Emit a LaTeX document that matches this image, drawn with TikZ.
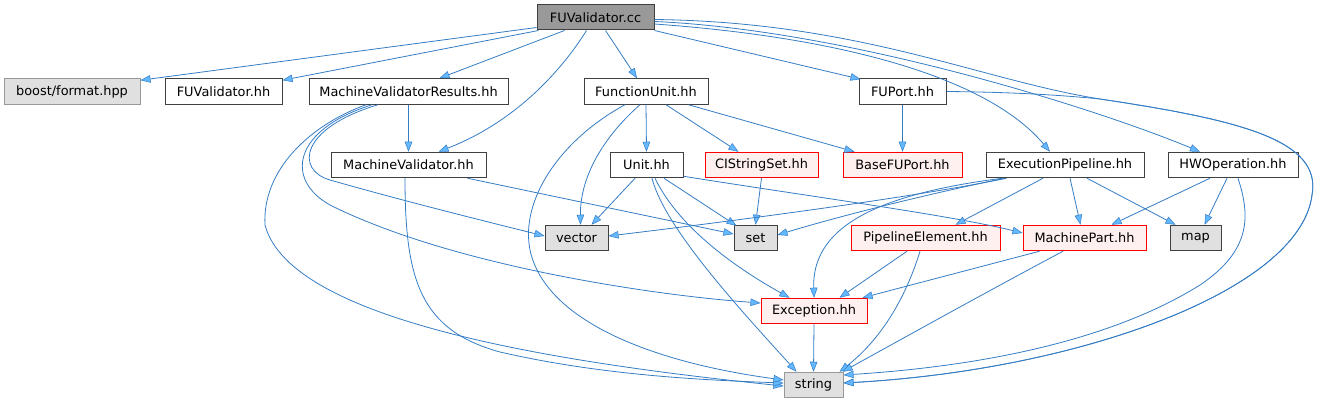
\documentclass[tikz,border=0pt]{standalone}
\usepackage{fontspec}
\setmainfont{DejaVu Sans}
\usetikzlibrary{arrows.meta,calc}
\definecolor{edgeline}{RGB}{52,124,196}
\definecolor{arrowfill}{RGB}{99,184,255}
\definecolor{bordergray}{HTML}{404040}
\definecolor{lightborder}{HTML}{999999}
\definecolor{sysfill}{HTML}{E0E0E0}
\definecolor{mainfill}{HTML}{999999}
\definecolor{redfill}{HTML}{FFF0F0}
\tikzset{
  box/.style={draw=bordergray, fill=white, line width=1pt, rectangle, inner sep=0pt,
    minimum height=25.5pt, font=\fontsize{12.9}{14}\selectfont, text=black},
  mainbox/.style={box, fill=mainfill},
  sysbox/.style={box, fill=sysfill},
  lightsys/.style={box, fill=sysfill, draw=lightborder},
  redbox/.style={box, fill=redfill, draw=red},
  edge/.style={draw=edgeline, line width=0.8pt,
    -{Triangle[length=10pt,width=7.5pt,fill=arrowfill,line width=0.5pt]}},
}
\begin{document}
\begin{tikzpicture}[x=1pt,y=-1pt]
\useasboundingbox (0,0) rectangle (1321,403);
% nodes
\node[mainbox, minimum width=117pt, minimum height=25pt] (A) at (595.5,17.5) {FUValidator.cc};
\node[lightsys, minimum width=136pt] (boost) at (72,91.5) {boost/format.hpp};
\node[box, minimum width=117pt] (Chh) at (223.5,91.5) {FUValidator.hh};
\node[box, minimum width=199pt] (MVR) at (408.5,91.5) {MachineValidatorResults.hh};
\node[box, minimum width=124pt] (FU) at (646,91.5) {FunctionUnit.hh};
\node[box, minimum width=87pt] (FP) at (902.5,91.5) {FUPort.hh};
\node[box, minimum width=155pt] (MV) at (408.5,165) {MachineValidator.hh};
\node[box, minimum width=73pt] (Unit) at (646.5,165) {Unit.hh};
\node[redbox, minimum width=113pt] (CIS) at (761.5,165) {CIStringSet.hh};
\node[redbox, minimum width=119pt] (BFP) at (902.5,165) {BaseFUPort.hh};
\node[box, minimum width=158pt] (EP) at (1065,165) {ExecutionPipeline.hh};
\node[box, minimum width=130pt] (HW) at (1233,165) {HWOperation.hh};
\node[sysbox, minimum width=63pt] (vector) at (576.5,238) {vector};
\node[sysbox, minimum width=43pt] (set) at (755.5,238) {set};
\node[redbox, minimum width=149pt] (PE) at (925.5,238) {PipelineElement.hh};
\node[redbox, minimum width=123pt] (MP) at (1084.5,238) {MachinePart.hh};
\node[sysbox, minimum width=51pt] (map) at (1195.5,238) {map};
\node[redbox, minimum width=106pt] (Exc) at (814,311) {Exception.hh};
\node[lightsys, minimum width=59pt] (string) at (813.5,385) {string};
% edges from FUValidator.cc
\path[edge] ($(A.south west)+(0,-3)$) -- ($(boost.north east)+(0,2)$);
\path[edge] ($(A.south west)+(2,0)$) -- ($(Chh.north east)+(0,2)$);
\path[edge] ($(A.south west)+(28,0)$) -- ($(MVR.north)+(31,0)$);
\path[edge] ($(A.south)+(-9,0)$) .. controls (565,65) and (520,120) .. ($(MV.north)+(30,0)$);
\path[edge] ($(A.south)+(10,0)$) -- ($(FU.north)+(-9,0)$);
\path[edge] (A.south east) -- ($(FP.north west)+(2,1)$);
\path[edge] ($(A.east)+(0,6.5)$) .. controls (850,38) and (990,80) .. ($(EP.north)+(-15,0)$);
\path[edge] ($(A.east)+(0,4)$) .. controls (850,30) and (1100,110) .. ($(HW.north)+(-33,0)$);
\path[edge] ($(A.east)+(0,2)$) .. controls (860,22) and (980,80) .. (1100,99)
   .. controls (1240,120) and (1322,140) .. (1312,195)
   .. controls (1300,290) and (1080,370) .. ($(string.east)+(0,-2)$);
% MachineValidatorResults
\path[edge] (MVR.south) -- (MV.north);
\path[edge] ($(MVR.south)+(-30.5,0)$) .. controls (300,128) and (295,170) .. (330,180)
   .. controls (400,200) and (480,220) .. ($(vector.west)+(0,-2)$);
\path[edge] ($(MVR.south)+(-36.5,0)$) .. controls (292,130) and (285,180) .. (330,205)
   .. controls (450,265) and (650,295) .. ($(Exc.west)+(0,-8)$);
\path[edge] ($(MVR.south)+(-42.5,0)$) .. controls (310,125) and (262,170) .. (265,225)
   .. controls (290,320) and (550,362) .. ($(string.west)+(0,1)$);
% MachineValidator
\path[edge] ($(MV.south east)+(-19,0)$) -- ($(set.west)+(0,-4)$);
\path[edge] ($(MV.south)+(-3.5,0)$) .. controls (405,280) and (420,330) .. (500,352)
   .. controls (600,375) and (700,380) .. ($(string.west)+(0,-2)$);
% FunctionUnit
\path[edge] (FU.south) -- (Unit.north);
\path[edge] ($(FU.south)+(20,0)$) -- ($(CIS.north)+(-23,0)$);
\path[edge] ($(FU.south east)+(-20,0)$) -- ($(BFP.north west)+(12,0)$);
\path[edge] ($(FU.south)+(-6,0)$) .. controls (600,140) and (580,180) .. ($(vector.north)+(4,0)$);
\path[edge] ($(FU.south)+(-21,0)$) .. controls (560,140) and (520,200) .. (530,250)
   .. controls (545,320) and (650,362) .. ($(string.west)+(0,-5)$);
% FUPort
\path[edge] (FP.south) -- (BFP.north);
\path[edge] (FP.east) .. controls (1000,92) and (1050,94) .. (1100,99)
   .. controls (1240,120) and (1322,140) .. (1312,195)
   .. controls (1300,290) and (1080,370) .. ($(string.east)+(0,-2)$);
% Unit
\path[edge] ($(Unit.south)+(-11.5,0)$) -- ($(vector.north)+(15,0)$);
\path[edge] ($(Unit.south)+(17.5,0)$) -- ($(set.north west)+(3,1)$);
\path[edge] ($(Unit.south east)+(0,-2)$) .. controls (800,195) and (950,215) .. ($(MP.west)+(0,-5)$);
\path[edge] ($(Unit.south)+(8.5,0)$) .. controls (680,230) and (740,270) .. ($(Exc.north west)+(29,0)$);
\path[edge] ($(Unit.south)+(5.5,0)$) .. controls (665,230) and (750,320) .. ($(string.north west)+(13,0)$);
% CIStringSet
\path[edge] (CIS.south) -- (set.north);
% ExecutionPipeline
\path[edge] ($(EP.south west)+(21,0)$) .. controls (900,200) and (700,225) .. ($(vector.east)+(0,-2)$);
\path[edge] ($(EP.south west)+(19,0)$) .. controls (900,200) and (820,222) .. ($(set.east)+(0,-3)$);
\path[edge] ($(EP.south west)+(17,0)$) .. controls (870,195) and (812,230) .. (Exc.north);
\path[edge] ($(EP.south)+(-22,0)$) -- ($(PE.north)+(30,0)$);
\path[edge] ($(EP.south)+(5,0)$) -- ($(MP.north)+(-4,0)$);
\path[edge] ($(EP.south)+(22,0)$) -- ($(map.north west)+(6,0)$);
% HWOperation
\path[edge] ($(HW.south)+(-23,0)$) -- ($(MP.north)+(27,0)$);
\path[edge] ($(HW.south)+(-6,0)$) -- ($(map.north)+(9,0)$);
\path[edge] ($(HW.south)+(5,0)$) .. controls (1250,215) and (1252,250) .. (1200,285)
   .. controls (1120,335) and (1000,365) .. ($(string.east)+(0,-10)$);
% PipelineElement
\path[edge] ($(PE.south)+(-18.5,0)$) -- ($(Exc.north east)+(-28,0)$);
\path[edge] ($(PE.south)+(-5.5,0)$) .. controls (905,300) and (880,340) .. ($(string.north east)+(-4,0)$);
% MachinePart
\path[edge] ($(MP.south west)+(17,0)$) -- ($(Exc.north east)+(-5,0)$);
\path[edge] ($(MP.south)+(-21.5,0)$) .. controls (990,290) and (900,340) .. ($(string.north east)+(-1,0)$);
% Exception
\path[edge] (Exc.south) -- (string.north);
\end{tikzpicture}
\end{document}
